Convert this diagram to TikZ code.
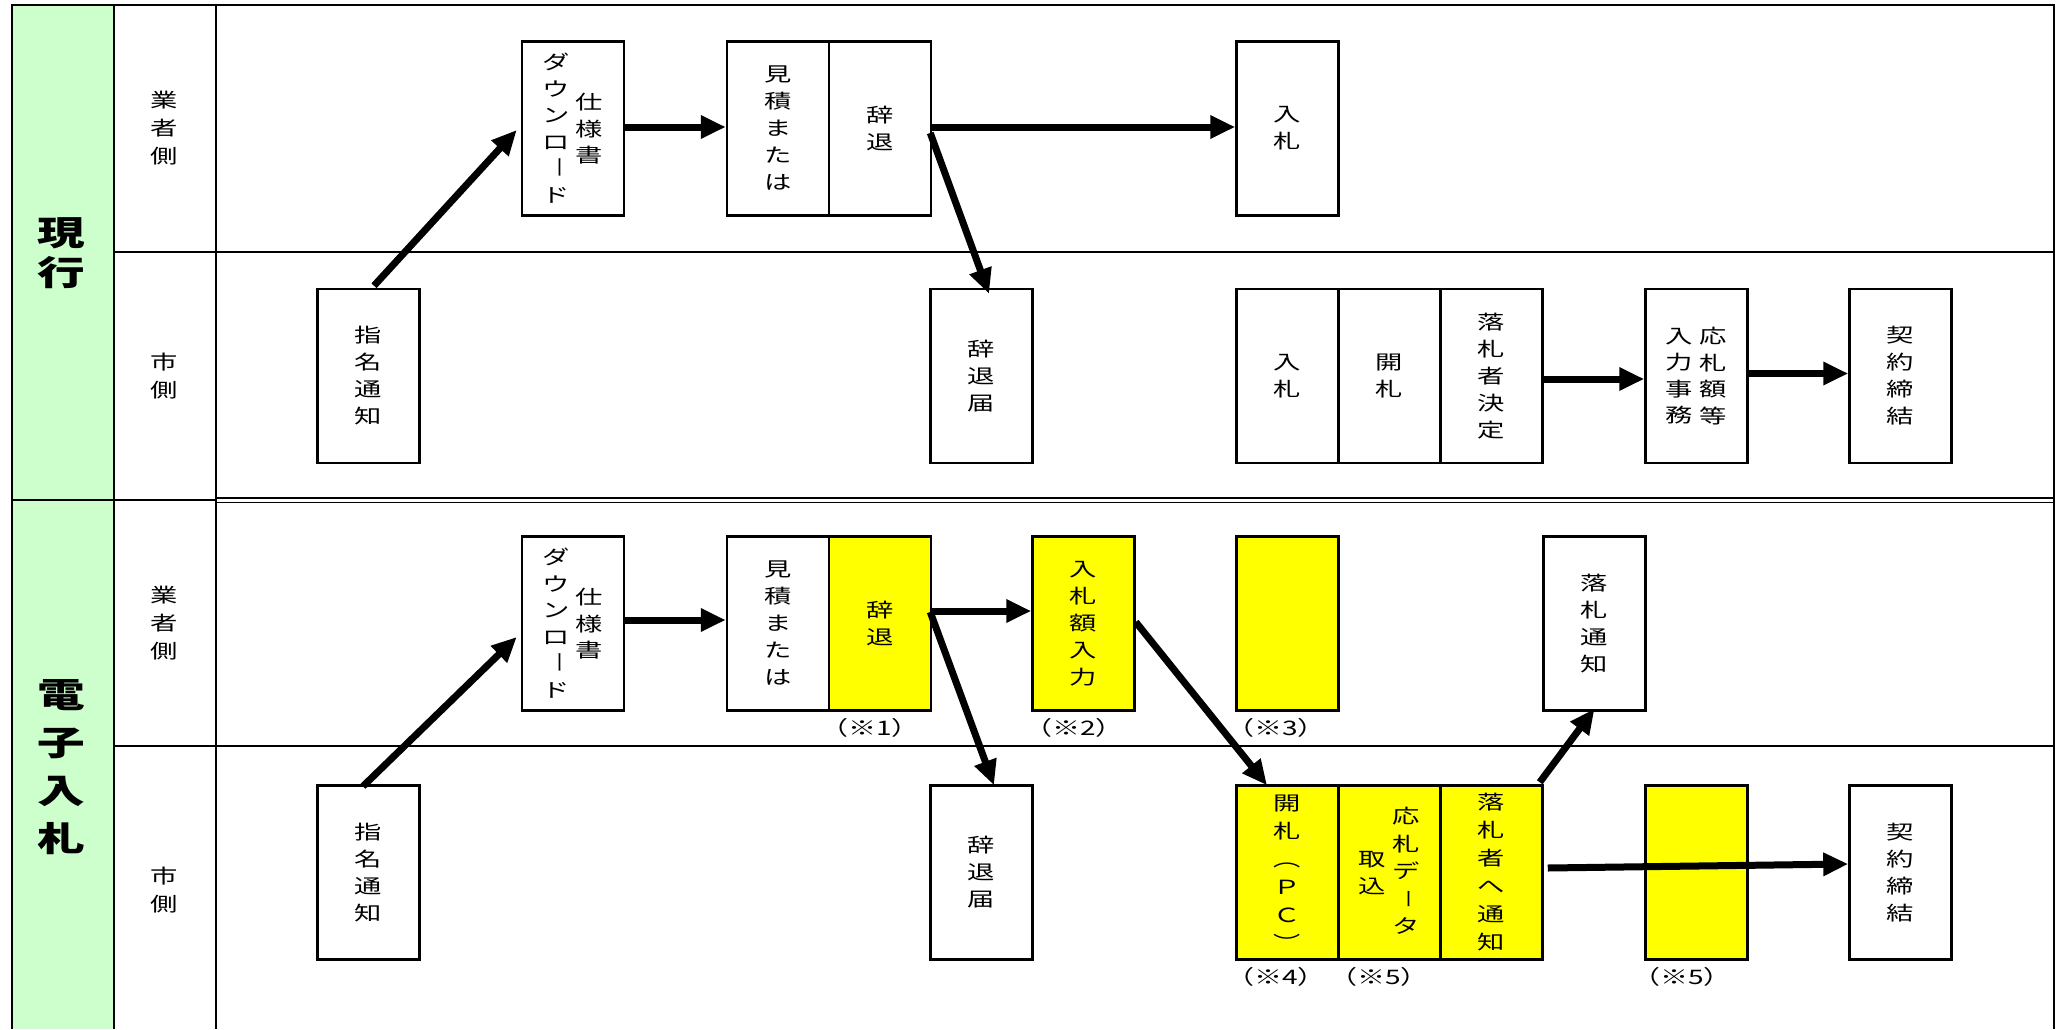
\documentclass[tikz,border=0pt]{standalone}
\usepackage{fontspec}
\setmainfont{Noto Sans CJK JP}[FakeStretch=1.4]
\usetikzlibrary{arrows.meta}
\definecolor{lgreen}{HTML}{CCFFCC}
\definecolor{yel}{HTML}{FFFF00}
\tikzset{
  stepbox/.style={draw=black, line width=2.5pt, fill=white, minimum width=102pt, minimum height=174pt, inner sep=0pt, align=center, font=\fontsize{19.5}{27}\selectfont},
  ybox/.style={stepbox, fill=yel},
  vcol/.style={inner sep=0pt, align=center, font=\fontsize{19.5}{26.5}\selectfont},
  barnode/.style={inner sep=0pt, rotate=-90, font=\fontsize{19.5}{26.5}\selectfont},
  lanelabel/.style={inner sep=0pt, align=center, font=\fontsize{19.5}{28}\selectfont},
  biglabel/.style={inner sep=0pt, align=center, font=\bfseries\fontsize{34}{40}\selectfont},
  note/.style={inner sep=0pt, font=\fontsize{20}{22}\selectfont},
  arr/.style={line width=7pt, -{Triangle[length=25pt,width=22pt]}},
  tline/.style={line width=2pt}
}
\begin{document}
\begin{tikzpicture}[x=1pt,y=-1pt]
\useasboundingbox (0,0) rectangle (2057,1029);
% table
\fill[lgreen] (12,5) rectangle (114,1029);
\draw[tline] (12,1029) -- (12,5) -- (2054,5) -- (2054,1029);
\draw[tline] (114,5) -- (114,1029);
\draw[tline] (216,5) -- (216,1029);
\draw[tline] (114,252) -- (2054,252);
\draw[tline] (12,500) -- (216,500);
\draw[line width=1.6pt] (216,497.7) -- (2054,497.7);
\draw[line width=1.6pt] (216,502.3) -- (2054,502.3);
\draw[tline] (114,746) -- (2054,746);
% lane labels
\node[biglabel] (genko) at (61,253) {現\\行};
\node[biglabel, font=\bfseries\fontsize{34}{48}\selectfont] (denshi) at (61,767) {電\\子\\入\\札};
\node[lanelabel] (gyo1) at (164,128.5) {業\\者\\側};
\node[lanelabel] (shi1) at (164,376) {市\\側};
\node[lanelabel] (gyo2) at (164,623) {業\\者\\側};
\node[lanelabel] (shi2) at (164,890) {市\\側};
% section 1 boxes
\node[stepbox] (shiyo1) at (573,128.5) {};
\node[vcol] (shiyo1a) at (589.5,129) {仕\\様\\書};
\node[vcol] (shiyo1b) at (556.5,128) {ダ\\ウ\\ン\\ロ\\\phantom{ロ}\\ド};
\node[barnode] (bar1) at (556.5,167.8) {\scalebox{0.8}[1]{ー}};
\node[stepbox] (mitsu1) at (778,128.5) {見\\積\\ま\\た\\は};
\node[stepbox] (jitai1) at (880,128.5) {辞\\退};
\node[stepbox] (nyu1) at (1287.5,128.5) {入\\札};
\node[stepbox] (shimei1) at (368.5,376) {指\\名\\通\\知};
\node[stepbox] (todoke1) at (981.5,376) {辞\\退\\届};
\node[stepbox] (nyu1b) at (1287.5,376) {入\\札};
\node[stepbox] (kai1) at (1389.5,376) {開\\札};
\node[stepbox] (kettei1) at (1491.5,376) {落\\札\\者\\決\\定};
\node[stepbox] (ou1) at (1696.5,376) {};
\node[vcol] (ou1a) at (1713.5,376) {応\\札\\額\\等};
\node[vcol] (ou1b) at (1679.5,376) {入\\力\\事\\務};
\node[stepbox] (kei1) at (1900.5,376) {契\\約\\締\\結};
% section 2 boxes
\node[stepbox] (shiyo2) at (573,623.5) {};
\node[vcol] (shiyo2a) at (589.5,624) {仕\\様\\書};
\node[vcol] (shiyo2b) at (556.5,623) {ダ\\ウ\\ン\\ロ\\\phantom{ロ}\\ド};
\node[barnode] (bar2) at (556.5,662.8) {\scalebox{0.8}[1]{ー}};
\node[stepbox] (mitsu2) at (778,623.5) {見\\積\\ま\\た\\は};
\node[ybox] (jitai2) at (880,623.5) {辞\\退};
\node[ybox] (nyugaku2) at (1083.5,623.5) {入\\札\\額\\入\\力};
\node[ybox] (blank3) at (1287.5,623.5) {};
\node[stepbox] (rakutsu2) at (1594.5,623.5) {落\\札\\通\\知};
\node[stepbox] (shimei2) at (368.5,872.5) {指\\名\\通\\知};
\node[stepbox] (todoke2) at (981.5,872.5) {辞\\退\\届};
\node[ybox, font=\fontsize{19.5}{28}\selectfont] (kai2) at (1287.5,872.5) {開\\札\\︵\\Ｐ\\Ｃ\\︶};
\node[ybox] (tori2) at (1389.5,872.5) {};
\node[vcol, font=\fontsize{19.5}{27.5}\selectfont] (tori2a) at (1406,871) {応\\札\\デ\\\phantom{デ}\\タ};
\node[barnode] (bar3) at (1406,898.6) {\scalebox{0.7}[1]{ー}};
\node[vcol, font=\fontsize{19.5}{27.5}\selectfont] (tori2b) at (1372,873) {取\\込};
\node[ybox, font=\fontsize{19.5}{28}\selectfont] (tsuchi2) at (1491.5,872.5) {落\\札\\者\\へ\\通\\知};
\node[ybox] (blank5) at (1696.5,872.5) {};
\node[stepbox] (kei2) at (1900.5,872.5) {契\\約\\締\\結};
% notes
\node[note] (n1) at (870,728) {（※1）};
\node[note] (n2) at (1074,728) {（※2）};
\node[note] (n3) at (1276,728) {（※3）};
\node[note] (n4) at (1276,977) {（※4）};
\node[note] (n5a) at (1379,977) {（※5）};
\node[note] (n5b) at (1682,977) {（※5）};
% arrows section 1
\draw[arr] ([xshift=5.5pt,yshift=2pt]shimei1.north) -- ([xshift=-4pt,yshift=-1.5pt]shiyo1.west);
\draw[arr] ([yshift=1.5pt]shiyo1.east) -- ([yshift=1.5pt]mitsu1.west);
\draw[arr] ([yshift=1.5pt]jitai1.east) -- ([yshift=1.5pt]nyu1.west);
\draw[arr] ([xshift=-2pt,yshift=-4.5pt]jitai1.east) -- ([xshift=7.5pt,yshift=-6pt]todoke1.north);
\draw[arr] ([yshift=-3pt]kettei1.east) -- ([yshift=-3pt]ou1.west);
\draw[arr] ([yshift=2.5pt]ou1.east) -- ([yshift=2.5pt]kei1.west);
% arrows section 2
\draw[arr] ([xshift=-5.5pt,yshift=-2pt]shimei2.north) -- ([xshift=-4pt,yshift=-13.5pt]shiyo2.west);
\draw[arr] ([yshift=3.5pt]shiyo2.east) -- ([yshift=3.5pt]mitsu2.west);
\draw[arr] ([yshift=12.5pt]jitai2.east) -- ([yshift=12.5pt]nyugaku2.west);
\draw[arr] ([xshift=-2pt,yshift=11.5pt]jitai2.east) -- ([xshift=12.5pt,yshift=-1pt]todoke2.north);
\draw[arr] ([yshift=1.5pt]nyugaku2.east) -- ([xshift=-20.5pt,yshift=-1pt]kai2.north);
\draw[arr] ([xshift=-4pt,yshift=2pt]tsuchi2.north east) -- ([yshift=3pt]rakutsu2.south);
\draw[arr] ([xshift=4pt,yshift=4.5pt]tsuchi2.east) -- ([yshift=8.5pt]kei2.west);
\end{tikzpicture}
\end{document}
